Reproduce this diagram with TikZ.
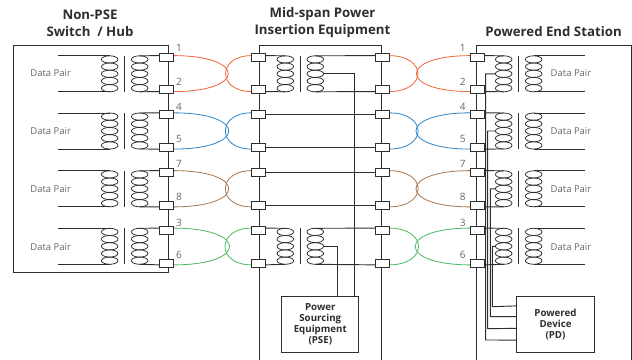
\documentclass[tikz,border=0pt]{standalone}
\usepackage{fontspec}
\setmainfont{Open Sans}
\usepackage{xcolor}
\definecolor{linegray}{HTML}{2E2E2E}
\definecolor{textgray}{HTML}{666666}
\definecolor{pairorange}{HTML}{F0663D}
\definecolor{pairblue}{HTML}{2F86C8}
\definecolor{pairbrown}{HTML}{A87850}
\definecolor{pairgreen}{HTML}{4DBB5F}
\tikzset{
  wire/.style={draw=linegray,line width=0.8pt},
  coilwire/.style={draw=linegray,line width=0.65pt},
  pin/.style={draw=linegray,fill=white,line width=0.8pt,rectangle,inner sep=0pt,minimum width=0.39cm,minimum height=0.21cm},
  pinnum/.style={text=textgray,font=\fontsize{8.6pt}{10pt}\selectfont},
  datapair/.style={text=textgray,font=\fontsize{8.1pt}{9pt}\selectfont},
  title/.style={text=linegray,align=center,font=\fontsize{11.3pt}{14.5pt}\selectfont\bfseries},
  equip/.style={draw=linegray,fill=white,line width=0.8pt,rectangle,inner sep=0pt,minimum height=1.689cm,align=center,text=linegray,font=\fontsize{8.3pt}{9.3pt}\selectfont\bfseries},
  longloop/.style={out=0,in=0,looseness=5.2},
  shortloop/.style={out=180,in=180,looseness=2.45},
  shortloopr/.style={out=0,in=0,looseness=2.75},
  longloopr/.style={out=180,in=180,looseness=5.1}
}
% one transformer: centre x, top y
\newcommand{\xfmr}[3]{
  \foreach \i in {0,...,4}{
    \draw[coilwire] (#2-15,#3+3.6+7.2*\i) ellipse (8.3 and 3.6);
    \draw[coilwire] (#2+15,#3+3.6+7.2*\i) ellipse (8.3 and 3.6);
  }
  \draw[coilwire] (#2,#3) -- (#2,#3+36);
  \coordinate (#1lt) at (#2-15,#3);
  \coordinate (#1lb) at (#2-15,#3+36);
  \coordinate (#1rt) at (#2+15,#3);
  \coordinate (#1rb) at (#2+15,#3+36);
  \coordinate (#1lm) at (#2-23.3,#3+18);
  \coordinate (#1rm) at (#2+23.3,#3+18);
}

\begin{document}
\begin{tikzpicture}[x=0.03cm,y=-0.03cm]
\useasboundingbox (0,0) rectangle (632,360);

% enclosures
\draw[wire] (13,45) rectangle (168.3,272);
\draw[wire] (259,360) -- (259,45) -- (381.7,45) -- (381.7,360);
\draw[wire] (476.7,360) -- (476.7,45) -- (631.5,45) -- (631.5,360);

\node[title] (hubtitle) at (90,23) {Non-PSE\\Switch\ \ / Hub};
\node[title] (midtitle) at (322.5,23) {Mid-span Power\\Insertion Equipment};
\node[title] (endtitle) at (553.5,31.5) {Powered End Station};

\xfmr{xh1}{124.7}{55.8} \xfmr{xh2}{124.7}{113} \xfmr{xh3}{124.7}{170.8} \xfmr{xh4}{124.7}{228.3}
\xfmr{xm1}{300.3}{55.8} \xfmr{xm4}{300.3}{228.3}
\xfmr{xs1}{518.7}{55.8} \xfmr{xs2}{518.7}{113} \xfmr{xs3}{518.7}{170.8} \xfmr{xs4}{518.7}{228.3}

\node[pin] (h1) at(166.7,57.5){};
\node[pin] (h2) at(166.7,89.7){};
\node[pin] (h4) at(166.7,114.7){};
\node[pin] (h5) at(166.7,147.2){};
\node[pin] (h7) at(166.7,172.5){};
\node[pin] (h8) at(166.7,205){};
\node[pin] (h3) at(166.7,230){};
\node[pin] (h6) at(166.7,263){};

\node[pin] (m1) at(258.3,57.5){};
\node[pin] (m2) at(258.3,89.7){};
\node[pin] (m4) at(258.3,114.7){};
\node[pin] (m5) at(258.3,147.2){};
\node[pin] (m7) at(258.3,172.5){};
\node[pin] (m8) at(258.3,205){};
\node[pin] (m3) at(258.3,230){};
\node[pin] (m6) at(258.3,263){};

\node[pin] (n1) at(382,57.5){};
\node[pin] (n2) at(382,89.7){};
\node[pin] (n4) at(382,114.7){};
\node[pin] (n5) at(382,147.2){};
\node[pin] (n7) at(382,172.5){};
\node[pin] (n8) at(382,205){};
\node[pin] (n3) at(382,230){};
\node[pin] (n6) at(382,263){};

\node[pin] (s1) at(477,57.5){};
\node[pin] (s2) at(477,89.7){};
\node[pin] (s4) at(477,114.7){};
\node[pin] (s5) at(477,147.2){};
\node[pin] (s7) at(477,172.5){};
\node[pin] (s8) at(477,205){};
\node[pin] (s3) at(477,230){};
\node[pin] (s6) at(477,263){};

\node[equip,minimum width=2.319cm] (pse) at(320.3,324.2){Power\\Sourcing\\Equipment\\(PSE)};
\node[equip,minimum width=2.328cm] (pd) at(555.5,324.2){Powered\\Device\\(PD)};

% free ends of the data wires
\coordinate (hubend) at (58,0);
\coordinate (endend) at (585,0);

% hub side
\draw[wire] (xh1lt -| hubend) -- (xh1lt); \draw[wire] (xh1lb -| hubend) -- (xh1lb);
\draw[wire] (xh2lt -| hubend) -- (xh2lt); \draw[wire] (xh2lb -| hubend) -- (xh2lb);
\draw[wire] (xh3lt -| hubend) -- (xh3lt); \draw[wire] (xh3lb -| hubend) -- (xh3lb);
\draw[wire] (xh4lt -| hubend) -- (xh4lt); \draw[wire] (xh4lb -| hubend) -- (xh4lb);
\draw[wire] (xh1rt) -- (h1.165); \draw[wire] (xh1rb) -- (h2.195);
\draw[wire] (xh2rt) -- (h4.165); \draw[wire] (xh2rb) -- (h5.195);
\draw[wire] (xh3rt) -- (h7.165); \draw[wire] (xh3rb) -- (h8.195);
\draw[wire] (xh4rt) -- (h3.165); \draw[wire] (xh4rb) -- (h6.195);

% mid-span
\draw[wire] (m1.15) -- (xm1lt); \draw[wire] (m2.-15) -- (xm1lb);
\draw[wire] (xm1rt) -- (n1.165); \draw[wire] (xm1rb) -- (n2.195);
\draw[wire] (m3.15) -- (xm4lt); \draw[wire] (m6.-15) -- (xm4lb);
\draw[wire] (xm4rt) -- (n3.165); \draw[wire] (xm4rb) -- (n6.195);
\draw[wire] (m4) -- (n4);
\draw[wire] (m5) -- (n5);
\draw[wire] (m7) -- (n7);
\draw[wire] (m8) -- (n8);
\draw[wire] (xm1rm) -| (pse.40.5);
\draw[wire] (xm4rm) -| (pse.59.8);

% station side
\draw[wire] (s1.15) -- (xs1lt); \draw[wire] (s2.-15) -- (xs1lb);
\draw[wire] (s4.15) -- (xs2lt); \draw[wire] (s5.-15) -- (xs2lb);
\draw[wire] (s7.15) -- (xs3lt); \draw[wire] (s8.-15) -- (xs3lb);
\draw[wire] (s3.15) -- (xs4lt); \draw[wire] (s6.-15) -- (xs4lb);
\draw[wire] (xs1rt) -- (xs1rt -| endend); \draw[wire] (xs1rb) -- (xs1rb -| endend);
\draw[wire] (xs2rt) -- (xs2rt -| endend); \draw[wire] (xs2rb) -- (xs2rb -| endend);
\draw[wire] (xs3rt) -- (xs3rt -| endend); \draw[wire] (xs3rb) -- (xs3rb -| endend);
\draw[wire] (xs4rt) -- (xs4rt -| endend); \draw[wire] (xs4rb) -- (xs4rb -| endend);

% taps down to the PD
\coordinate (tap1) at (485.7,340);
\coordinate (tap2) at (487.7,328.7);
\coordinate (tap3) at (490.3,316.7);
\coordinate (tap4) at (492.3,306.7);
\draw[wire] (xs1lm) -| (tap1) -- (pd.202.4);
\draw[wire] (xs2lm) -| (tap2) -- (pd.186.9);
\draw[wire] (xs3lm) -| (tap3) -- (pd.169.1);
\draw[wire] (xs4lm) -| (tap4) -- (pd.155.7);

% coloured links
\draw[pairorange,line width=0.7pt] (h1.15) to[longloop] (h2.-15);
\draw[pairorange,line width=0.7pt] (m1.165) to[shortloop] (m2.195);
\draw[pairorange,line width=0.7pt] (n1.15) to[shortloopr] (n2.-15);
\draw[pairorange,line width=0.7pt] (s1.165) to[longloopr] (s2.195);
\draw[pairblue,line width=0.7pt] (h4.15) to[longloop] (h5.-15);
\draw[pairblue,line width=0.7pt] (m4.165) to[shortloop] (m5.195);
\draw[pairblue,line width=0.7pt] (n4.15) to[shortloopr] (n5.-15);
\draw[pairblue,line width=0.7pt] (s4.165) to[longloopr] (s5.195);
\draw[pairbrown,line width=0.7pt] (h7.15) to[longloop] (h8.-15);
\draw[pairbrown,line width=0.7pt] (m7.165) to[shortloop] (m8.195);
\draw[pairbrown,line width=0.7pt] (n7.15) to[shortloopr] (n8.-15);
\draw[pairbrown,line width=0.7pt] (s7.165) to[longloopr] (s8.195);
\draw[pairgreen,line width=0.7pt] (h3.15) to[longloop] (h6.-15);
\draw[pairgreen,line width=0.7pt] (m3.165) to[shortloop] (m6.195);
\draw[pairgreen,line width=0.7pt] (n3.15) to[shortloopr] (n6.-15);
\draw[pairgreen,line width=0.7pt] (s3.165) to[longloopr] (s6.195);

% redraw pins above the wires
\foreach \p in {h1,h2,h4,h5,h7,h8,h3,h6,m1,m2,m4,m5,m7,m8,m3,m6,n1,n2,n4,n5,n7,n8,n3,n6,s1,s2,s4,s5,s7,s8,s3,s6}{
  \draw[pin] (\p.south west) rectangle (\p.north east);
}

\node[datapair] (dh1) at(50.7,73){Data Pair};
\node[datapair] (dh2) at(50.7,131){Data Pair};
\node[datapair] (dh3) at(50.7,189){Data Pair};
\node[datapair] (dh4) at(50.7,247){Data Pair};
\node[datapair] (ds1) at(571,73){Data Pair};
\node[datapair] (ds2) at(571,131){Data Pair};
\node[datapair] (ds3) at(571,189){Data Pair};
\node[datapair] (ds4) at(571,247){Data Pair};

\node[pinnum] (lh1) at(179,48){1};
\node[pinnum] (lh2) at(179,82){2};
\node[pinnum] (lh4) at(179,107){4};
\node[pinnum] (lh5) at(179,139){5};
\node[pinnum] (lh7) at(179,164){7};
\node[pinnum] (lh8) at(179,197){8};
\node[pinnum] (lh3) at(179,223){3};
\node[pinnum] (lh6) at(179,255){6};
\node[pinnum] (ls1) at(462.7,48){1};
\node[pinnum] (ls2) at(462.7,82){2};
\node[pinnum] (ls4) at(462.7,107){4};
\node[pinnum] (ls5) at(462.7,139){5};
\node[pinnum] (ls7) at(462.7,164){7};
\node[pinnum] (ls8) at(462.7,197){8};
\node[pinnum] (ls3) at(462.7,223){3};
\node[pinnum] (ls6) at(462.7,255){6};
\end{tikzpicture}
\end{document}
